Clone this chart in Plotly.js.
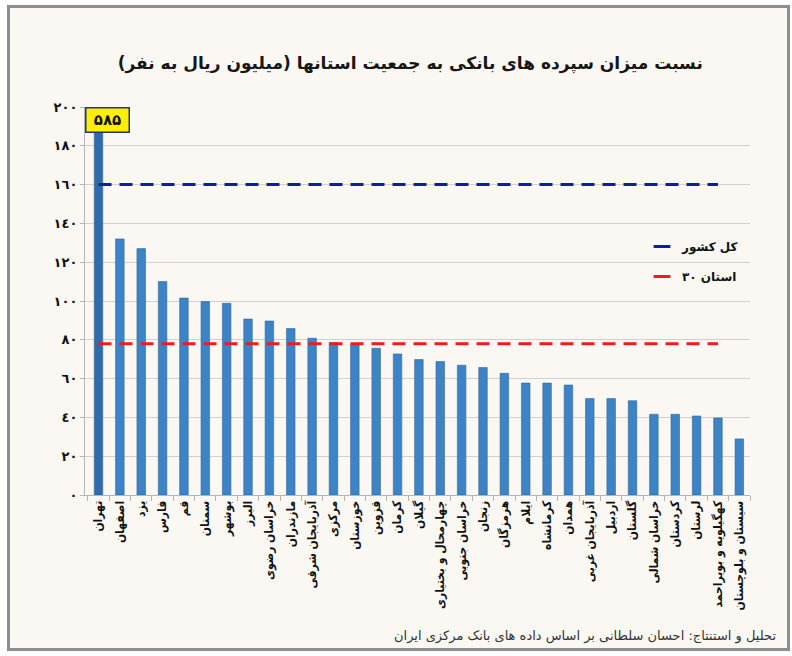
<!DOCTYPE html>
<html>
<head>
<meta charset="utf-8">
<script src="https://cdn.plot.ly/plotly-3.0.1.min.js"></script>
<style>
  html, body { margin: 0; padding: 0; background: #ffffff; }
  #frame { position: absolute; left: 7px; top: 5px; width: 777px; height: 640px;
           border: 3px solid #8e8e8e; background: #fbf8f4; }
  #chart { position: absolute; left: 0; top: 0; width: 792px; height: 656px; }
</style>
</head>
<body>
<div id="frame"></div>
<div id="chart"></div>
<script>
// ---- data ----
const categories = ['تهران','اصفهان','یزد','فارس','قم','سمنان','بوشهر','البرز','خراسان رضوی','مازندران',
  'آذربایجان شرقی','مرکزی','خوزستان','قزوین','کرمان','گیلان','چهارمحال و بختیاری','خراسان جنوبی','زنجان','هرمزگان',
  'ایلام','کرمانشاه','همدان','آذربایجان غربی','اردبیل','گلستان','خراسان شمالی','کردستان','لرستان','کهگیلویه و بویراحمد',
  'سیستان و بلوچستان'];
const values = [585,132,127,110,101.5,99.7,98.8,90.7,89.7,85.8,
  80.8,78.6,77.5,75.6,72.7,69.8,68.8,66.9,65.7,62.7,
  57.7,57.7,56.7,49.7,49.7,48.6,41.6,41.6,40.7,39.7,
  28.9];
const refNames = ['کل کشور','\u200E\u2066۳۰\u2069 \u2067استان\u2069'];
const refValues = [160, 78];
const tickVals = [0,20,40,60,80,100,120,140,160,180,200];
const tickText = ['٠','٢٠','٤٠','٦٠','٨٠','١٠٠','١٢٠','١٤٠','١٦٠','١٨٠','٢٠٠'];
const topLabel = '۵۸۵';
const titleText = 'نسبت میزان سپرده های بانکی به جمعیت استانها (میلیون ریال به نفر)\u200F';
const footerText = 'تحلیل و استنتاج: احسان سلطانی بر اساس داده های بانک مرکزی ایران';

// ---- styles ----
const refColors = ['#0f1e9e', '#f01c1c'];
const barColors = values.map((v, i) => i === 0 ? '#2f6cab' : '#3d84c6');
const FONT = 'DejaVu Sans, sans-serif';

const traces = [];
traces.push({
  type: 'bar', x: categories, y: values,
  marker: { color: barColors, line: { color: '#2d679f', width: 0.6 } },
  showlegend: false, hoverinfo: 'x+y'
});
// reference lines (span from first province to the penultimate one)
refValues.forEach((v, k) => {
  traces.push({
    type: 'scatter', mode: 'lines',
    x: [categories[0], categories[categories.length - 2]], y: [v, v],
    line: { color: refColors[k], width: 3, dash: '13px,8px' },
    showlegend: false, hoverinfo: 'y'
  });
});
// legend entries
refNames.forEach((n, k) => {
  traces.push({
    type: 'scatter', mode: 'markers', x: [null], y: [null], name: n,
    legendgroup: 'g' + k,
    marker: { symbol: 'line-ew', size: 12, line: { color: refColors[k], width: 3 } }
  });
});

const layout = {
  width: 792, height: 656,
  margin: { l: 85, r: 42, t: 107, b: 161 },
  paper_bgcolor: 'rgba(0,0,0,0)', plot_bgcolor: 'rgba(0,0,0,0)',
  bargap: 0.6,
  title: {
    text: titleText, xref: 'container', x: 0.518, xanchor: 'center',
    yref: 'container', y: 1 - 63/656, yanchor: 'middle',
    font: { family: FONT, size: 17, color: '#161616', weight: 'bold' }
  },
  xaxis: {
    type: 'category', tickangle: -90,
    tickfont: { family: 'DejaVu Sans Condensed, DejaVu Sans, sans-serif', size: 12, color: '#111', weight: 'bold' },
    showline: true, linecolor: '#b5b5b5', linewidth: 1,
    ticks: 'outside', tickson: 'boundaries', ticklen: 5, tickcolor: '#b5b5b5',
    showgrid: false, fixedrange: true
  },
  yaxis: {
    range: [0, 200], tickvals: tickVals, ticktext: tickText,
    tickfont: { family: FONT, size: 13, color: '#111', weight: 'bold' },
    showline: true, linecolor: '#b5b5b5', linewidth: 1,
    ticks: 'outside', ticklen: 4, tickcolor: '#b5b5b5',
    showgrid: true, gridcolor: '#d3d1cd', gridwidth: 1,
    zeroline: false, fixedrange: true
  },
  legend: {
    x: (642 - 85) / 665, xanchor: 'left', y: (495 - 232) / 388, yanchor: 'top',
    bgcolor: 'rgba(0,0,0,0)', tracegroupgap: 11,
    font: { family: FONT, size: 12, color: '#111', weight: 'bold' }
  },
  annotations: [
    {
      x: categories[0], y: tickVals[tickVals.length - 1], xref: 'x', yref: 'y',
      text: topLabel, showarrow: false, xanchor: 'center', yanchor: 'top', xshift: 9,
      bgcolor: '#ffee00', bordercolor: '#26347a', borderwidth: 1.5, borderpad: 2,
      width: 38, height: 19,
      font: { family: FONT, size: 15, color: '#111', weight: 'bold' }
    },
    {
      x: (778 - 85) / 665, y: (495 - 636) / 388, xref: 'paper', yref: 'paper',
      text: footerText, showarrow: false, xanchor: 'right', yanchor: 'middle',
      font: { family: FONT, size: 13, color: '#333' }
    }
  ]
};

Plotly.newPlot('chart', traces, layout, { displayModeBar: false, staticPlot: true });
</script>
</body>
</html>
